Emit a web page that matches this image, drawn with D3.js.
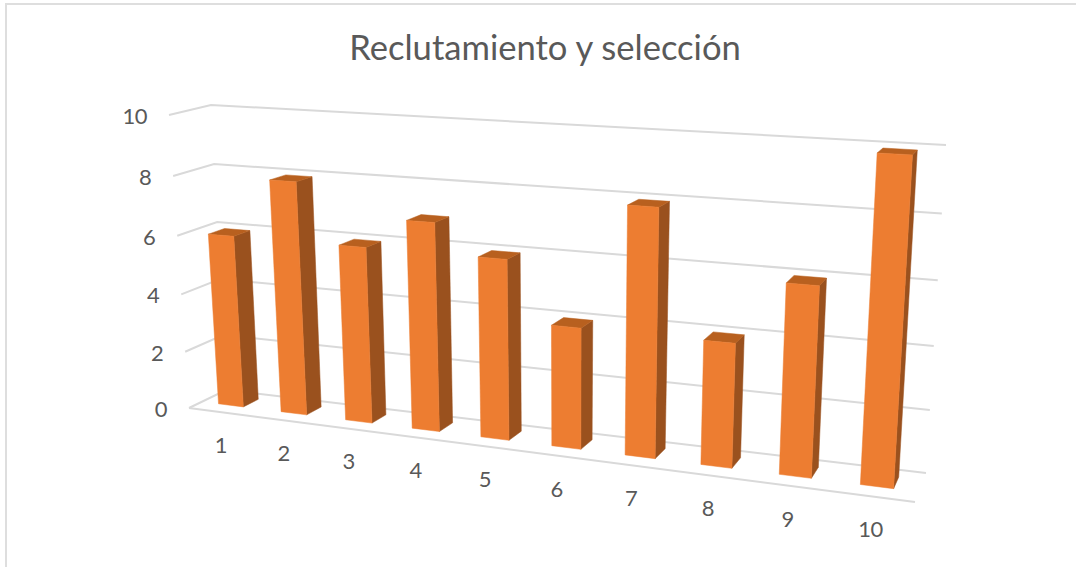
<!DOCTYPE html>
<html><head><meta charset="utf-8">
<script src="https://cdn.jsdelivr.net/npm/d3@7/dist/d3.min.js"></script>
<style>html,body{margin:0;padding:0;background:#fff}svg{display:block}text{font-family:Lato,"Open Sans",sans-serif;fill:#595959}</style>
</head><body><svg id="c" width="1076" height="567"></svg>
<script>
const title = "Reclutamiento y selección";
const categories = ["1","2","3","4","5","6","7","8","9","10"];
const values = [6,8,6,7,6,4,8,4,6,10];
const valueTicks = [0,2,4,6,8,10];

// Perspective frame of the 3D plot box (pixel corners of front and back planes)
const frontCorners = [[189,408],[915,502],[936,157],[169,115]]; // u0v0,u1v0,u1v1,u0v1
const backCorners  = [[226,390],[926,473],[946,145],[211,105]];

function homography(q){
  const [[x0,y0],[x1,y1],[x2,y2],[x3,y3]] = q;
  const dx1=x1-x2, dx2=x3-x2, sx=x0-x1+x2-x3, dy1=y1-y2, dy2=y3-y2, sy=y0-y1+y2-y3;
  const det=dx1*dy2-dx2*dy1;
  const g=(sx*dy2-dx2*sy)/det, h=(dx1*sy-sx*dy1)/det;
  const a=x1-x0+g*x1, b=x3-x0+h*x3, d=y1-y0+g*y1, e=y3-y0+h*y3;
  return (u,v)=>{const w=g*u+h*v+1;return [(a*u+b*v+x0)/w,(d*u+e*v+y0)/w];};
}
const hFront=homography(frontCorners), hBack=homography(backCorners);
function project(u,v,d){
  const f=hFront(u,v), b=hBack(u,v);
  return [f[0]+(b[0]-f[0])*d, f[1]+(b[1]-f[1])*d];
}
const xBand=d3.scaleBand().domain(categories).range([-0.003,1]).paddingInner(0.6).paddingOuter(0.3);
const yVal=d3.scaleLinear().domain([0,10]).range([0,1]);
const yBar=d3.scaleLinear().domain([0,10]).range([0,0.99]);
const depth=d3.scaleLinear().domain([0,1]).range([0.35,0.76]);
const labelShift=d3.scaleLinear().domain([0,1]).range([3,-2]);
const line=d3.line();
const svg=d3.select("#c");

// chart frame
svg.append("path").attr("d",line([[6,567],[6,4],[1076,4]])).attr("fill","none").attr("stroke","#dedede").attr("stroke-width",2);

svg.append("text").attr("x",545).attr("y",60).attr("text-anchor","middle").attr("font-size",34.6).text(title);

// gridlines
const grid=svg.append("g").attr("fill","none").attr("stroke","#d9d9d9").attr("stroke-width",2);
grid.selectAll("path.w").data(valueTicks).join("path").attr("class","w")
  .attr("d",t=>line([project(0,yVal(t),0),project(0,yVal(t),1),project(1,yVal(t),1)]));
grid.append("path").attr("d",line([project(0,0,0),project(1,0,0)]));

// value labels
svg.selectAll("text.v").data(valueTicks).join("text").attr("class","v")
  .attr("x",t=>project(0,yVal(t),0)[0]-22).attr("y",t=>project(0,yVal(t),0)[1]+9)
  .attr("text-anchor","end").attr("font-size",22).attr("letter-spacing",-0.5).text(t=>t);

// category labels
svg.selectAll("text.k").data(categories).join("text").attr("class","k")
  .attr("x",c=>{const u=xBand(c)+xBand.bandwidth()/2;return project(u,0,0)[0]+labelShift(u);})
  .attr("y",c=>project(xBand(c)+xBand.bandwidth()/2,0,0)[1]+41)
  .attr("text-anchor","middle").attr("font-size",22).attr("letter-spacing",-0.5).text(c=>c);

// bars
const bars=svg.selectAll("g.bar").data(categories.map((c,i)=>({c,v:values[i]}))).join("g").attr("class","bar");
const face=(col,fn)=>bars.append("path").attr("fill",col).attr("stroke",col).attr("stroke-width",0.5).attr("stroke-linejoin","round")
  .attr("d",b=>line(fn(xBand(b.c),xBand(b.c)+xBand.bandwidth(),yBar(b.v)))+"Z");
const d0=depth(0), d1=depth(1);
face("#9a511e",(a,b,t)=>[project(b,0,d0),project(b,0,d1),project(b,t,d1),project(b,t,d0)]);
face("#b8601f",(a,b,t)=>[project(a,t,d0),project(b,t,d0),project(b,t,d1),project(a,t,d1)]);
face("#ed7d31",(a,b,t)=>[project(a,0,d0),project(b,0,d0),project(b,t,d0),project(a,t,d0)]);
</script></body></html>
